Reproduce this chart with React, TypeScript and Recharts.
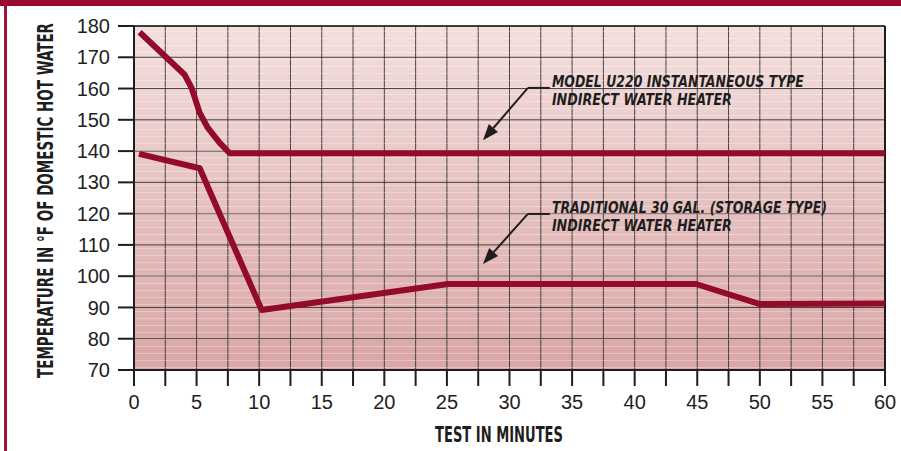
import React from 'react';
import {
  LineChart,
  Line,
  XAxis,
  YAxis,
  CartesianGrid,
  ReferenceLine,
  ReferenceArea,
} from 'recharts';

// values
const u220Minutes = [0.45, 4.05, 4.6, 5.25, 5.9, 6.85, 7.65, 60];
const u220Temps = [178.0, 164.4, 160.2, 152.2, 147.4, 142.6, 139.3, 139.3];

const storageMinutes = [0.4, 5.25, 10.2, 25.1, 44.9, 50.0, 60];
const storageTemps = [139.1, 134.5, 89.2, 97.5, 97.5, 91.1, 91.3];

const xTicks = [0, 2.5, 5, 7.5, 10, 12.5, 15, 17.5, 20, 22.5, 25, 27.5, 30, 32.5, 35, 37.5, 40, 42.5, 45, 47.5, 50, 52.5, 55, 57.5, 60];
const yTicks = [70, 80, 90, 100, 110, 120, 130, 140, 150, 160, 170, 180];

const u220Note = ['MODEL U220 INSTANTANEOUS TYPE', 'INDIRECT WATER HEATER'];
const storageNote = ['TRADITIONAL 30 GAL. (STORAGE TYPE)', 'INDIRECT WATER HEATER'];

const u220Data = u220Minutes.map((m, i) => ({ min: m, temp: u220Temps[i] }));
const storageData = storageMinutes.map((m, i) => ({ min: m, temp: storageTemps[i] }));

const RED = '#930a2b';
const INK = '#1e1e1e';
const CONDENSED = "'Liberation Sans Narrow', 'DejaVu Sans Condensed', 'Liberation Sans', sans-serif";
const TICK_FONT = "'Liberation Sans', Arial, sans-serif";

const noteLengths: Record<string, number> = {
  'MODEL U220 INSTANTANEOUS TYPE': 252,
  'INDIRECT WATER HEATER': 180,
  'TRADITIONAL 30 GAL. (STORAGE TYPE)': 275,
};

function arrowShape(lines: string[]) {
  return (props: any) => {
    const { x1, y1, x2, y2 } = props;
    const dx = x2 - x1;
    const dy = y2 - y1;
    const len = Math.sqrt(dx * dx + dy * dy) || 1;
    const ux = dx / len;
    const uy = dy / len;
    const headLen = 16;
    const headHalf = 6;
    const bx = x2 - ux * headLen;
    const by = y2 - uy * headLen;
    const pts = `${x2},${y2} ${bx - uy * headHalf},${by + ux * headHalf} ${bx + uy * headHalf},${by - ux * headHalf}`;
    return (
      <g>
        <line x1={x1} y1={y1} x2={x1 + 22} y2={y1} stroke={INK} strokeWidth={2} />
        <line x1={x1} y1={y1} x2={bx} y2={by} stroke={INK} strokeWidth={2} />
        <polygon points={pts} fill={INK} />
        {lines.map((t, i) => (
          <text
            key={t}
            x={x1 + 24}
            y={y1 - 1 + i * 18.5}
            fill={INK}
            fontFamily={CONDENSED}
            fontWeight="bold"
            fontStyle="italic"
            fontSize={16}
            textLength={noteLengths[t]}
            lengthAdjust="spacingAndGlyphs"
          >
            {t}
          </text>
        ))}
      </g>
    );
  };
}

export default function App() {
  return (
    <div style={{ position: 'absolute', left: 0, top: 0, width: 901, height: 451, background: '#fff' }}>
      <div style={{ position: 'absolute', left: 0, top: 0, width: 901, height: 6, background: '#990a30' }} />
      <div style={{ position: 'absolute', left: 4, top: 0, width: 2.5, height: 451, background: '#a0122f' }} />
      <LineChart
        width={901}
        height={451}
        margin={{ top: 26, right: 16, bottom: 21, left: 0 }}
        style={{ position: 'absolute', left: 0, top: 0 }}
      >
        <defs>
          <linearGradient id="plotBg" x1="0" y1="0" x2="0" y2="1">
            <stop offset="0%" stopColor="#f3dfde" />
            <stop offset="100%" stopColor="#d9a6a4" />
          </linearGradient>
          <pattern id="stripes" width="10" height="7" patternUnits="userSpaceOnUse">
            <rect x="0" y="3" width="10" height="1" fill="#ffffff" fillOpacity="0.28" />
          </pattern>
        </defs>
        <CartesianGrid fill="url(#plotBg)" fillOpacity={1} stroke="#333333" strokeOpacity={0.9} strokeWidth={1} />
        <ReferenceArea x1={0} x2={60} y1={70} y2={180} fill="url(#stripes)" fillOpacity={1} stroke="none" />
        <XAxis
          dataKey="min"
          type="number"
          domain={[0, 60]}
          ticks={xTicks}
          interval={0}
          allowDuplicatedCategory={false}
          height={60}
          tickSize={16}
          tickMargin={9}
          tickFormatter={(v: number) => (v % 5 === 0 ? String(v) : '')}
          stroke={INK}
          strokeWidth={2}
          tick={{ fill: INK, fontSize: 20, fontFamily: TICK_FONT }}
          tickLine={{ stroke: INK, strokeWidth: 2 }}
          label={{
            content: () => (
              <text
                x={499}
                y={442}
                textAnchor="middle"
                fill={INK}
                fontFamily={CONDENSED}
                fontWeight="bold"
                fontSize={22}
                textLength={128}
                lengthAdjust="spacingAndGlyphs"
              >
                TEST IN MINUTES
              </text>
            ),
          }}
        />
        <YAxis
          type="number"
          domain={[70, 180]}
          ticks={yTicks}
          interval={0}
          width={134}
          tickSize={16}
          tickMargin={8}
          stroke={INK}
          strokeWidth={2}
          tick={{ fill: INK, fontSize: 20, fontFamily: TICK_FONT }}
          tickLine={{ stroke: INK, strokeWidth: 2 }}
          label={{
            content: () => (
              <text
                x={0}
                y={0}
                transform="translate(53, 200.5) rotate(-90) scale(1, 1.375)"
                textAnchor="middle"
                fill={INK}
                fontFamily={CONDENSED}
                fontWeight="bold"
                fontSize={16}
                textLength={355}
                lengthAdjust="spacingAndGlyphs"
              >
                TEMPERATURE IN °F OF DOMESTIC HOT WATER
              </text>
            ),
          }}
        />
        <ReferenceLine x={60} stroke={INK} strokeWidth={2} />
        <ReferenceLine y={180} stroke={INK} strokeWidth={1.5} />
        <ReferenceLine
          segment={[{ x: 31.47, y: 160.2 }, { x: 27.88, y: 143.5 }]}
          shape={arrowShape(u220Note)}
        />
        <ReferenceLine
          segment={[{ x: 31.47, y: 119.9 }, { x: 27.88, y: 103.9 }]}
          shape={arrowShape(storageNote)}
        />
        <Line
          data={u220Data}
          dataKey="temp"
          type="linear"
          stroke={RED}
          strokeWidth={6}
          strokeLinejoin="round"
          dot={false}
          activeDot={false}
          isAnimationActive={false}
        />
        <Line
          data={storageData}
          dataKey="temp"
          type="linear"
          stroke={RED}
          strokeWidth={6}
          strokeLinejoin="round"
          dot={false}
          activeDot={false}
          isAnimationActive={false}
        />
      </LineChart>
    </div>
  );
}
